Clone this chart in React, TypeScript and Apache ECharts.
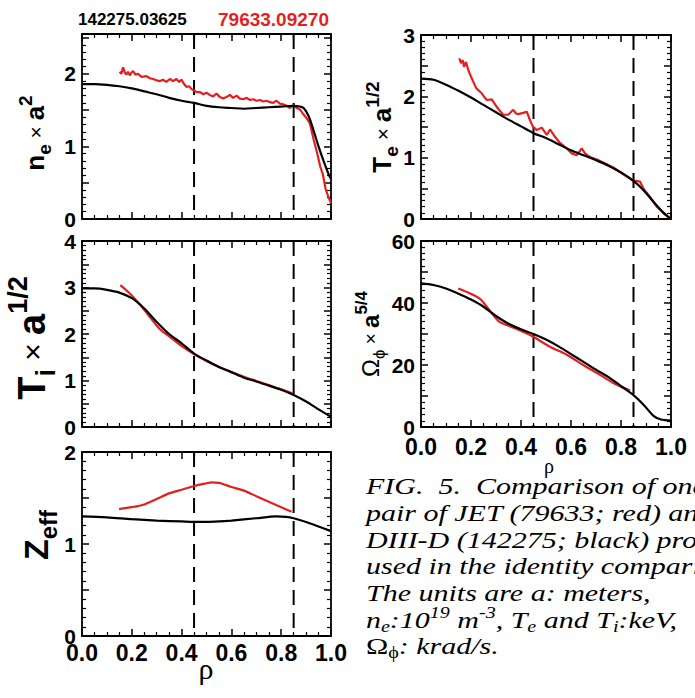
import React, { useEffect, useRef } from 'react';
import * as echarts from 'echarts';

const SANS = '"Liberation Sans", Arial, Helvetica, sans-serif';
const SERIF = '"Liberation Serif", "Times New Roman", serif';
const RED = '#e41f1f';
const INK = '#000000';

// Shot / time identifiers shown above the figure
const SHOT_DIIID = '142275.03625';
const SHOT_JET = '79633.09270';

// Normalised radius of the two reference positions (dashed verticals)
const MARK_RHO = [0.45, 0.85];

// Electron density, n_e * a^2  [rho, value]
const NE_DIIID: [number, number][] = [
  [0, 1.86], [0.05, 1.86], [0.1, 1.85], [0.15, 1.83], [0.2, 1.8], [0.25, 1.76], [0.3, 1.72],
  [0.35, 1.67], [0.4, 1.63], [0.45, 1.6], [0.5, 1.56], [0.55, 1.54], [0.6, 1.53], [0.65, 1.52],
  [0.7, 1.53], [0.75, 1.54], [0.8, 1.55], [0.85, 1.56], [0.875, 1.55], [0.89, 1.53], [0.91, 1.42],
  [0.93, 1.22], [0.95, 1.0], [0.97, 0.8], [0.99, 0.62], [1.0, 0.55],
];
const NE_JET: [number, number][] = [
  [0.151, 2.03], [0.158, 2.0], [0.165, 2.09], [0.172, 2.02], [0.178, 1.99], [0.185, 2.03],
  [0.192, 1.98], [0.199, 2.02], [0.205, 2.04], [0.215, 1.99], [0.225, 2.0], [0.239, 1.96],
  [0.259, 1.97], [0.272, 1.94], [0.286, 1.93], [0.3, 1.91], [0.312, 1.9], [0.325, 1.92],
  [0.339, 1.89], [0.353, 1.93], [0.366, 1.9], [0.379, 1.93], [0.39, 1.89], [0.399, 1.92],
  [0.41, 1.86], [0.42, 1.82], [0.43, 1.83], [0.44, 1.79], [0.45, 1.77], [0.46, 1.75],
  [0.473, 1.75], [0.487, 1.72], [0.5, 1.74], [0.513, 1.71], [0.527, 1.69], [0.54, 1.73],
  [0.554, 1.68], [0.567, 1.66], [0.58, 1.68], [0.594, 1.71], [0.607, 1.67], [0.621, 1.7],
  [0.634, 1.66], [0.648, 1.65], [0.661, 1.67], [0.675, 1.64], [0.688, 1.65], [0.701, 1.63],
  [0.715, 1.64], [0.728, 1.62], [0.741, 1.63], [0.755, 1.61], [0.768, 1.6], [0.781, 1.63],
  [0.795, 1.59], [0.808, 1.58], [0.822, 1.56], [0.835, 1.53], [0.849, 1.57], [0.862, 1.53],
  [0.875, 1.51], [0.89, 1.44], [0.9, 1.4], [0.915, 1.32], [0.93, 1.1], [0.945, 0.9],
  [0.957, 0.72], [0.967, 0.62], [0.978, 0.42], [0.99, 0.3], [1.0, 0.22],
];

// Electron temperature, T_e * a^(1/2)
const TE_DIIID: [number, number][] = [
  [0, 2.29], [0.05, 2.27], [0.1, 2.19], [0.15, 2.09], [0.2, 1.98], [0.25, 1.86], [0.3, 1.74],
  [0.35, 1.62], [0.4, 1.51], [0.45, 1.4], [0.5, 1.32], [0.55, 1.22], [0.6, 1.12], [0.65, 1.04],
  [0.7, 0.96], [0.75, 0.87], [0.8, 0.76], [0.85, 0.62], [0.89, 0.47], [0.93, 0.28], [0.97, 0.1],
  [1.0, 0.0],
];
const TE_JET: [number, number][] = [
  [0.153, 2.62], [0.16, 2.54], [0.167, 2.59], [0.172, 2.48], [0.18, 2.56], [0.189, 2.43],
  [0.2, 2.32], [0.209, 2.24], [0.22, 2.14], [0.229, 2.1], [0.243, 2.05], [0.255, 1.98],
  [0.263, 1.94], [0.283, 1.95], [0.303, 1.83], [0.316, 1.76], [0.329, 1.7], [0.349, 1.7],
  [0.369, 1.78], [0.38, 1.72], [0.389, 1.71], [0.409, 1.73], [0.423, 1.75], [0.436, 1.61],
  [0.447, 1.51], [0.463, 1.45], [0.483, 1.49], [0.503, 1.37], [0.516, 1.46], [0.536, 1.34],
  [0.556, 1.24], [0.583, 1.15], [0.603, 1.07], [0.623, 1.04], [0.643, 1.15], [0.656, 1.07],
  [0.676, 1.01], [0.703, 0.97], [0.729, 0.92], [0.769, 0.84], [0.809, 0.73], [0.836, 0.66],
  [0.849, 0.62], [0.863, 0.62], [0.876, 0.61], [0.889, 0.5], [0.916, 0.36], [0.943, 0.2],
  [0.976, 0.08], [1.0, 0.0],
];

// Ion temperature, T_i * a^(1/2)
const TI_DIIID: [number, number][] = [
  [0, 2.98], [0.05, 2.98], [0.1, 2.95], [0.15, 2.89], [0.2, 2.77], [0.25, 2.55], [0.3, 2.26],
  [0.35, 2.0], [0.4, 1.8], [0.45, 1.58], [0.5, 1.43], [0.55, 1.29], [0.6, 1.18], [0.65, 1.06],
  [0.7, 0.98], [0.75, 0.89], [0.8, 0.8], [0.85, 0.69], [0.9, 0.55], [0.95, 0.38], [1.0, 0.22],
];
const TI_JET: [number, number][] = [
  [0.154, 3.05], [0.19, 2.88], [0.23, 2.65], [0.27, 2.38], [0.31, 2.12], [0.35, 1.95],
  [0.4, 1.74], [0.45, 1.57], [0.5, 1.42], [0.55, 1.29], [0.6, 1.18], [0.65, 1.08], [0.7, 0.99],
  [0.75, 0.9], [0.8, 0.81], [0.846, 0.72],
];

// Toroidal rotation, Omega_phi * a^(5/4)
const OMEGA_DIIID: [number, number][] = [
  [0, 46.3], [0.05, 45.8], [0.1, 44.7], [0.15, 43.0], [0.2, 41.1], [0.25, 38.8], [0.3, 35.8],
  [0.35, 33.3], [0.4, 31.5], [0.45, 30.0], [0.5, 28.2], [0.55, 26.0], [0.6, 23.5], [0.65, 21.0],
  [0.7, 18.5], [0.75, 16.1], [0.8, 13.2], [0.85, 10.3], [0.89, 7.2], [0.93, 3.6], [0.96, 2.4],
  [1.0, 2.1],
];
const OMEGA_JET: [number, number][] = [
  [0.149, 44.7], [0.196, 43.1], [0.236, 41.3], [0.263, 38.8], [0.289, 36.1], [0.316, 33.8],
  [0.343, 32.9], [0.383, 31.6], [0.447, 29.2], [0.516, 25.9], [0.583, 23.3], [0.649, 20.0],
  [0.716, 16.8], [0.783, 13.6], [0.836, 11.8],
];

// Effective charge, Z_eff
const ZEFF_DIIID: [number, number][] = [
  [0, 1.3], [0.1, 1.29], [0.2, 1.27], [0.3, 1.255], [0.4, 1.245], [0.45, 1.24], [0.5, 1.24],
  [0.55, 1.245], [0.6, 1.255], [0.7, 1.28], [0.78, 1.3], [0.82, 1.295], [0.85, 1.28],
  [0.9, 1.24], [0.95, 1.19], [1.0, 1.14],
];
const ZEFF_JET: [number, number][] = [
  [0.149, 1.38], [0.2, 1.4], [0.25, 1.43], [0.3, 1.49], [0.35, 1.55], [0.4, 1.59], [0.45, 1.63],
  [0.5, 1.66], [0.52, 1.67], [0.55, 1.665], [0.6, 1.62], [0.65, 1.58], [0.7, 1.52],
  [0.75, 1.46], [0.8, 1.4], [0.842, 1.35],
];

// Axis scales: vertical maxima, major step, labelled step
const Y_MAX = [2.55, 3, 4, 60, 2];
const Y_STEP = [0.5, 0.5, 0.5, 10, 0.5];
const Y_LABEL_STEP = [1, 1, 1, 20, 1];
const RHO_STEP = 0.2;

const CAPTION = [
  'FIG.\u00a0 5.\u00a0 Comparison of one',
  'pair of JET (79633; red) and',
  'DIII-D (142275; black) profiles',
  'used in the identity comparison.',
  'The units are a: meters,',
  '{i|n}{isb|e}{i|:10}{isp|19}{i| m}{isp|-3}{i|, T}{isb|e}{i| and T}{isb|i}{i|:keV,}',
  '{u|\u03a9}{usb|\u03d5}{i|: krad/s.}',
];

// Panel layout (pixel boxes of each plot frame)
const PANELS = [
  { grid: { left: 82, top: 34, width: 249, height: 185 }, xLabels: false, xMargin: 5, jet: NE_JET, diiid: NE_DIIID, smoothJet: false,
    title: '{b|n}{sb|e}{m| \u00d7 }{b|a}{sp|2}', titleSize: 26, tx: 35, ty: 133 },
  { grid: { left: 421, top: 35, width: 250, height: 184 }, xLabels: false, xMargin: 5, jet: TE_JET, diiid: TE_DIIID, smoothJet: false,
    title: '{b|T}{sb|e}{m| \u00d7 }{b|a}{sp|1/2}', titleSize: 26, tx: 382, ty: 127 },
  { grid: { left: 82, top: 241, width: 249, height: 186 }, xLabels: false, xMargin: 5, jet: TI_JET, diiid: TI_DIIID, smoothJet: true,
    title: '{b|T}{sb|i}{m| \u00d7 }{b|a}{sp|1/2}', titleSize: 38, tx: 32, ty: 338 },
  { grid: { left: 421, top: 241, width: 250, height: 186 }, xLabels: true, xMargin: 8, jet: OMEGA_JET, diiid: OMEGA_DIIID, smoothJet: true,
    title: '{r|\u03a9}{sr|\u03d5}{m| \u00d7 }{b|a}{sp|5/4}', titleSize: 24, tx: 370, ty: 334 },
  { grid: { left: 82, top: 452, width: 249, height: 184 }, xLabels: true, xMargin: 5, jet: ZEFF_JET, diiid: ZEFF_DIIID, smoothJet: true,
    title: '{b|Z}{sb|eff}', titleSize: 34, tx: 36, ty: 535 },
];

function titleRich(F: number) {
  const lh = Math.round(F * 1.45);
  const s = Math.round(F * 0.72);
  const base = { fontFamily: SANS, fill: INK };
  return {
    b: { ...base, fontWeight: 'bold', fontSize: F, lineHeight: lh },
    r: { ...base, fontWeight: 'normal', fontSize: F, lineHeight: lh },
    m: { ...base, fontWeight: 'normal', fontSize: Math.round(F * 0.8), lineHeight: lh },
    sb: { ...base, fontWeight: 'bold', fontSize: s, lineHeight: s, verticalAlign: 'bottom' },
    sr: { ...base, fontWeight: 'normal', fontSize: s, lineHeight: s, verticalAlign: 'bottom' },
    sp: { ...base, fontWeight: 'bold', fontSize: s, lineHeight: s, verticalAlign: 'top' },
  };
}

const CAP_SIZE = 24;
const CAP_SMALL = 16;
const CAPTION_RICH = {
  i: { fontFamily: SERIF, fontStyle: 'italic', fontSize: CAP_SIZE, lineHeight: 30, fill: INK },
  u: { fontFamily: SERIF, fontSize: CAP_SIZE, lineHeight: 30, fill: INK },
  isb: { fontFamily: SERIF, fontStyle: 'italic', fontSize: CAP_SMALL, lineHeight: CAP_SMALL, verticalAlign: 'bottom', fill: INK },
  isp: { fontFamily: SERIF, fontStyle: 'italic', fontSize: CAP_SMALL, lineHeight: CAP_SMALL, verticalAlign: 'top', fill: INK },
  usb: { fontFamily: SERIF, fontSize: CAP_SMALL, lineHeight: CAP_SMALL, verticalAlign: 'bottom', fill: INK },
};

function buildOption() {
  const frame = { color: INK, width: 1.8 };
  const tick = { show: true, inside: true, length: 7, lineStyle: { color: INK, width: 1.5 } };
  const tickLabel = { fontFamily: SANS, fontWeight: 'bold' as const, fontSize: 23, color: INK };

  const xAxis: any[] = [];
  const yAxis: any[] = [];
  const series: any[] = [];

  PANELS.forEach((p, i) => {
    const xCommon = {
      gridIndex: i, type: 'value', min: 0, max: 1, interval: RHO_STEP,
      axisLine: { show: true, onZero: false, lineStyle: frame },
      axisTick: tick,
      minorTick: { show: true, splitNumber: 4, length: 4, lineStyle: { color: INK, width: 1.2 } },
      splitLine: { show: false },
    };
    xAxis.push({
      ...xCommon, position: 'bottom',
      axisLabel: { show: p.xLabels, margin: p.xMargin, ...tickLabel, formatter: (v: number) => v.toFixed(1) },
    });
    xAxis.push({ ...xCommon, position: 'top', axisLabel: { show: false } });

    const step = Y_LABEL_STEP[i];
    const yCommon = {
      gridIndex: i, type: 'value', min: 0, max: Y_MAX[i], interval: Y_STEP[i],
      axisLine: { show: true, onZero: false, lineStyle: frame },
      axisTick: tick,
      minorTick: { show: true, splitNumber: 5, length: 4, lineStyle: { color: INK, width: 1.2 } },
      splitLine: { show: false },
    };
    yAxis.push({
      ...yCommon, position: 'left',
      axisLabel: {
        show: true, margin: 6, ...tickLabel, fontSize: 21,
        formatter: (v: number) => {
          const k = v / step;
          return Math.abs(k - Math.round(k)) < 1e-6 ? String(Math.round(v)) : '';
        },
      },
    });
    yAxis.push({ ...yCommon, position: 'right', axisLabel: { show: false } });

    MARK_RHO.forEach((r) => {
      series.push({
        type: 'line', xAxisIndex: 2 * i, yAxisIndex: 2 * i, silent: true, symbol: 'none', z: 1,
        data: [[r, Y_MAX[i]], [r, 0]],
        lineStyle: { color: INK, width: 2, type: [15, 8] },
      });
    });
    series.push({
      type: 'line', name: 'JET', xAxisIndex: 2 * i, yAxisIndex: 2 * i, symbol: 'none', z: 2,
      smooth: p.smoothJet ? 0.3 : false, data: p.jet,
      lineStyle: { color: RED, width: 2.2 },
    });
    series.push({
      type: 'line', name: 'DIII-D', xAxisIndex: 2 * i, yAxisIndex: 2 * i, symbol: 'none', z: 3,
      smooth: 0.3, data: p.diiid,
      lineStyle: { color: INK, width: 2.2 },
    });
  });

  const graphic: any[] = [
    { type: 'text', x: 78, y: 19, style: { text: SHOT_DIIID, fontFamily: SANS, fontWeight: 'bold', fontSize: 17, fill: INK, align: 'left', verticalAlign: 'middle' } },
    { type: 'text', x: 218, y: 19, style: { text: SHOT_JET, fontFamily: SANS, fontWeight: 'bold', fontSize: 19, fill: RED, align: 'left', verticalAlign: 'middle' } },
    { type: 'text', x: 206, y: 668, style: { text: '\u03c1', fontFamily: SERIF, fontSize: 30, fill: INK, align: 'center', verticalAlign: 'middle' } },
    { type: 'text', x: 549, y: 466, style: { text: '\u03c1', fontFamily: SERIF, fontSize: 20, fill: INK, align: 'center', verticalAlign: 'middle' } },
  ];
  PANELS.forEach((p) => {
    graphic.push({
      type: 'text', x: p.tx, y: p.ty, rotation: Math.PI / 2,
      style: { text: p.title, rich: titleRich(p.titleSize), align: 'center', verticalAlign: 'middle' },
    });
  });
  // Caption: a wide italic serif face, stretched horizontally; it runs past the right edge
  const capY = [486, 513, 540, 566, 593, 620, 646];
  CAPTION.forEach((line, k) => {
    const rich = line.startsWith('{');
    graphic.push({
      type: 'text', x: 366, y: capY[k], scaleX: 1.25,
      style: rich
        ? { text: line, rich: CAPTION_RICH, align: 'left', verticalAlign: 'middle' }
        : { text: line, fontFamily: SERIF, fontStyle: 'italic', fontSize: CAP_SIZE, fill: INK, align: 'left', verticalAlign: 'middle' },
    });
  });

  return {
    animation: false,
    backgroundColor: '#ffffff',
    grid: PANELS.map((p) => ({ ...p.grid, containLabel: false })),
    xAxis,
    yAxis,
    series,
    graphic,
  };
}

export default function App() {
  const ref = useRef<HTMLDivElement>(null);
  useEffect(() => {
    if (!ref.current) return;
    const chart = echarts.init(ref.current, null, { renderer: 'svg' });
    chart.setOption(buildOption() as any);
    return () => chart.dispose();
  }, []);
  return (
    <div
      ref={ref}
      style={{ position: 'absolute', left: 0, top: 0, width: 695, height: 698, background: '#fff' }}
    />
  );
}
